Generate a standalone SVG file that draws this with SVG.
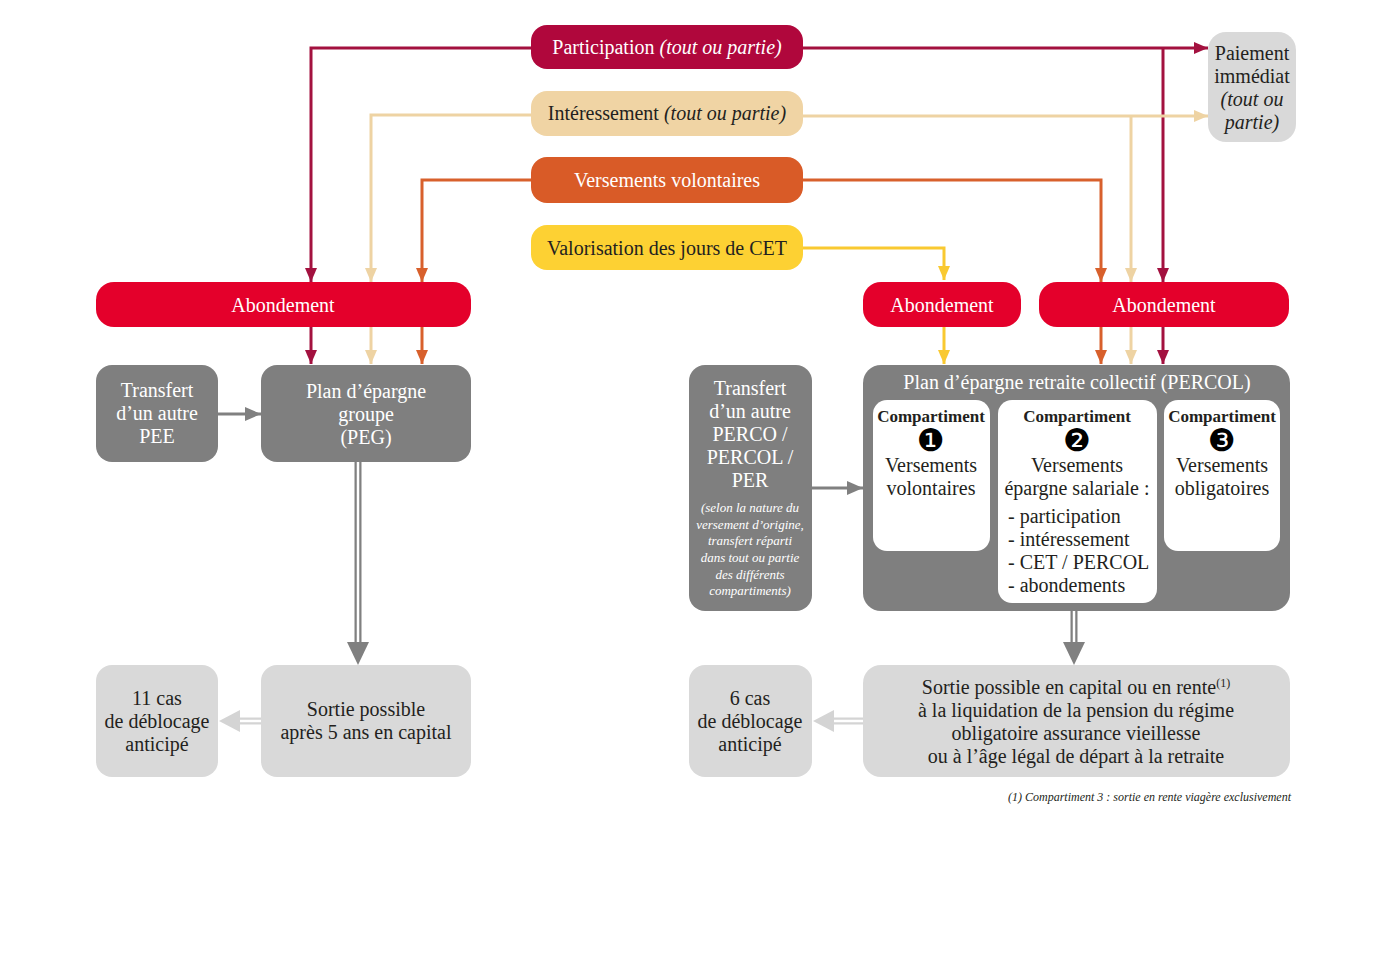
<svg xmlns="http://www.w3.org/2000/svg" width="1386" height="980" viewBox="0 0 1386 980">
<style>
text{font-family:"Liberation Serif","DejaVu Serif",serif;font-size:20px;text-anchor:middle}
.w{fill:#ffffff}
.d{fill:#231f20}
.it{font-style:italic}
.b{font-weight:bold;font-size:17px}
.num{font-family:"DejaVu Sans",sans-serif;font-size:31px;fill:#000}
.sm{font-style:italic;font-size:13px;fill:#ffffff}
.fn{font-style:italic;font-size:12px;fill:#231f20;text-anchor:end}
.ln{fill:none;stroke-width:3}
.dark{fill:#7f7f7f}
.light{fill:#d9d9d9}
.red{fill:#e4002b}
</style>
<defs>
<marker id="aM" markerUnits="userSpaceOnUse" markerWidth="14" markerHeight="12" refX="14" refY="6" orient="auto"><path d="M0,0 L14,6 L0,12 z" fill="#a3113f"/></marker>
<marker id="aB" markerUnits="userSpaceOnUse" markerWidth="14" markerHeight="12" refX="14" refY="6" orient="auto"><path d="M0,0 L14,6 L0,12 z" fill="#eed3a3"/></marker>
<marker id="aO" markerUnits="userSpaceOnUse" markerWidth="14" markerHeight="12" refX="14" refY="6" orient="auto"><path d="M0,0 L14,6 L0,12 z" fill="#d8602c"/></marker>
<marker id="aY" markerUnits="userSpaceOnUse" markerWidth="14" markerHeight="12" refX="14" refY="6" orient="auto"><path d="M0,0 L14,6 L0,12 z" fill="#f9c931"/></marker>
<marker id="aG" markerUnits="userSpaceOnUse" markerWidth="16" markerHeight="14" refX="16" refY="7" orient="auto"><path d="M0,0 L16,7 L0,14 z" fill="#808080"/></marker>
</defs>

<g id="connectors">
  <path class="ln" stroke="#a3113f" d="M531,48 H311 V282" marker-end="url(#aM)"/>
  <path class="ln" stroke="#a3113f" d="M803,48 H1208" marker-end="url(#aM)"/>
  <path class="ln" stroke="#a3113f" d="M1163,48 V282" marker-end="url(#aM)"/>
  <path class="ln" stroke="#eed3a3" d="M531,115 H371 V282" marker-end="url(#aB)"/>
  <path class="ln" stroke="#eed3a3" d="M803,116 H1208" marker-end="url(#aB)"/>
  <path class="ln" stroke="#eed3a3" d="M1131,116 V282" marker-end="url(#aB)"/>
  <path class="ln" stroke="#d8602c" d="M531,180 H422 V282" marker-end="url(#aO)"/>
  <path class="ln" stroke="#d8602c" d="M803,180 H1101 V282" marker-end="url(#aO)"/>
  <path class="ln" stroke="#f9c931" d="M803,248 H944 V280" marker-end="url(#aY)"/>
  <path class="ln" stroke="#a3113f" d="M311,327 V364" marker-end="url(#aM)"/>
  <path class="ln" stroke="#eed3a3" d="M371,327 V364" marker-end="url(#aB)"/>
  <path class="ln" stroke="#d8602c" d="M422,327 V364" marker-end="url(#aO)"/>
  <path class="ln" stroke="#f9c931" d="M944,327 V364" marker-end="url(#aY)"/>
  <path class="ln" stroke="#d8602c" d="M1101,327 V364" marker-end="url(#aO)"/>
  <path class="ln" stroke="#eed3a3" d="M1131,327 V364" marker-end="url(#aB)"/>
  <path class="ln" stroke="#a3113f" d="M1163,327 V364" marker-end="url(#aM)"/>
  <path class="ln" stroke="#808080" d="M218,414 H261" marker-end="url(#aG)"/>
  <path class="ln" stroke="#808080" d="M812,488 H863" marker-end="url(#aG)"/>
  <path d="M358,462 V646" stroke="#808080" stroke-width="7" fill="none"/>
  <path d="M358,462 V646" stroke="#ffffff" stroke-width="2.5" fill="none"/>
  <polygon points="347,642 369,642 358,665" fill="#808080"/>
  <path d="M1074,611 V646" stroke="#808080" stroke-width="7" fill="none"/>
  <path d="M1074,611 V646" stroke="#ffffff" stroke-width="2.5" fill="none"/>
  <polygon points="1063,642 1085,642 1074,665" fill="#808080"/>
  <path d="M261,721 H236" stroke="#d4d4d4" stroke-width="7" fill="none"/>
  <path d="M261,721 H236" stroke="#ffffff" stroke-width="2.5" fill="none"/>
  <polygon points="240,710 240,732 219,721" fill="#d4d4d4"/>
  <path d="M863,721 H830" stroke="#d4d4d4" stroke-width="7" fill="none"/>
  <path d="M863,721 H830" stroke="#ffffff" stroke-width="2.5" fill="none"/>
  <polygon points="834,710 834,732 813,721" fill="#d4d4d4"/>
</g>

<g id="participation">
  <rect x="531" y="25" width="272" height="44" rx="16" fill="#b0073c"/>
  <text x="667" y="54" class="w">Participation <tspan class="it">(tout ou partie)</tspan></text>
</g>
<g id="interessement">
  <rect x="531" y="91" width="272" height="45" rx="16" fill="#f0d4a4"/>
  <text x="667" y="120" class="d">Intéressement <tspan class="it">(tout ou partie)</tspan></text>
</g>
<g id="versements">
  <rect x="531" y="157" width="272" height="46" rx="16" fill="#d95b27"/>
  <text x="667" y="187" class="w">Versements volontaires</text>
</g>
<g id="cet">
  <rect x="531" y="225" width="272" height="45" rx="16" fill="#fdd133"/>
  <text x="667" y="255" class="d">Valorisation des jours de CET</text>
</g>
<g id="paiement">
  <rect x="1208" y="32" width="88" height="110" rx="18" class="light"/>
  <text x="1252" y="60" class="d">Paiement</text>
  <text x="1252" y="83" class="d">immédiat</text>
  <text x="1252" y="106" class="d it">(tout ou</text>
  <text x="1252" y="129" class="d it">partie)</text>
</g>

<g id="abondement-peg">
  <rect x="96" y="282" width="375" height="45" rx="18" class="red"/>
  <text x="283" y="312" class="w">Abondement</text>
</g>
<g id="abondement-cet">
  <rect x="863" y="282" width="158" height="45" rx="18" class="red"/>
  <text x="942" y="312" class="w">Abondement</text>
</g>
<g id="abondement-percol">
  <rect x="1039" y="282" width="250" height="45" rx="18" class="red"/>
  <text x="1164" y="312" class="w">Abondement</text>
</g>

<g id="transfert-pee">
  <rect x="96" y="365" width="122" height="97" rx="16" class="dark"/>
  <text x="157" y="397" class="w">Transfert</text>
  <text x="157" y="420" class="w">d’un autre</text>
  <text x="157" y="443" class="w">PEE</text>
</g>
<g id="peg">
  <rect x="261" y="365" width="210" height="97" rx="16" class="dark"/>
  <text x="366" y="398" class="w">Plan d’épargne</text>
  <text x="366" y="421" class="w">groupe</text>
  <text x="366" y="444" class="w">(PEG)</text>
</g>

<g id="transfert-perco">
  <rect x="689" y="365" width="123" height="246" rx="16" class="dark"/>
  <text x="750" y="395" class="w">Transfert</text>
  <text x="750" y="418" class="w">d’un autre</text>
  <text x="750" y="441" class="w">PERCO /</text>
  <text x="750" y="464" class="w">PERCOL /</text>
  <text x="750" y="487" class="w">PER</text>
  <text x="750" y="512" class="sm">(selon la nature du</text>
  <text x="750" y="529" class="sm">versement d’origine,</text>
  <text x="750" y="545" class="sm">transfert réparti</text>
  <text x="750" y="562" class="sm">dans tout ou partie</text>
  <text x="750" y="579" class="sm">des différents</text>
  <text x="750" y="595" class="sm">compartiments)</text>
</g>

<g id="percol">
  <rect x="863" y="365" width="427" height="246" rx="18" class="dark"/>
  <text x="1077" y="389" class="w">Plan d’épargne retraite collectif (PERCOL)</text>
  <rect x="873" y="400" width="117" height="151" rx="14" fill="#ffffff"/>
  <rect x="998" y="400" width="159" height="203" rx="14" fill="#ffffff"/>
  <rect x="1164" y="400" width="116" height="151" rx="14" fill="#ffffff"/>
  <text x="931" y="422" class="d b">Compartiment</text>
  <text x="931" y="451" class="num">❶</text>
  <text x="931" y="472" class="d">Versements</text>
  <text x="931" y="495" class="d">volontaires</text>
  <text x="1077" y="422" class="d b">Compartiment</text>
  <text x="1077" y="451" class="num">❷</text>
  <text x="1077" y="472" class="d">Versements</text>
  <text x="1077" y="495" class="d">épargne salariale :</text>
  <text x="1008" y="523" class="d" style="text-anchor:start">- participation</text>
  <text x="1008" y="546" class="d" style="text-anchor:start">- intéressement</text>
  <text x="1008" y="569" class="d" style="text-anchor:start">- CET / PERCOL</text>
  <text x="1008" y="592" class="d" style="text-anchor:start">- abondements</text>
  <text x="1222" y="422" class="d b">Compartiment</text>
  <text x="1222" y="451" class="num">❸</text>
  <text x="1222" y="472" class="d">Versements</text>
  <text x="1222" y="495" class="d">obligatoires</text>
</g>

<g id="cas-11">
  <rect x="96" y="665" width="122" height="112" rx="16" class="light"/>
  <text x="157" y="705" class="d">11 cas</text>
  <text x="157" y="728" class="d">de déblocage</text>
  <text x="157" y="751" class="d">anticipé</text>
</g>
<g id="sortie-peg">
  <rect x="261" y="665" width="210" height="112" rx="16" class="light"/>
  <text x="366" y="716" class="d">Sortie possible</text>
  <text x="366" y="739" class="d">après 5 ans en capital</text>
</g>
<g id="cas-6">
  <rect x="689" y="665" width="123" height="112" rx="16" class="light"/>
  <text x="750" y="705" class="d">6 cas</text>
  <text x="750" y="728" class="d">de déblocage</text>
  <text x="750" y="751" class="d">anticipé</text>
</g>
<g id="sortie-percol">
  <rect x="863" y="665" width="427" height="112" rx="18" class="light"/>
  <text x="1076" y="694" class="d">Sortie possible en capital ou en rente<tspan font-size="12" dy="-7">(1)</tspan></text>
  <text x="1076" y="717" class="d">à la liquidation de la pension du régime</text>
  <text x="1076" y="740" class="d">obligatoire assurance vieillesse</text>
  <text x="1076" y="763" class="d">ou à l’âge légal de départ à la retraite</text>
</g>

<text x="1291" y="801" class="fn">(1) Compartiment 3 : sortie en rente viagère exclusivement</text>
</svg>
